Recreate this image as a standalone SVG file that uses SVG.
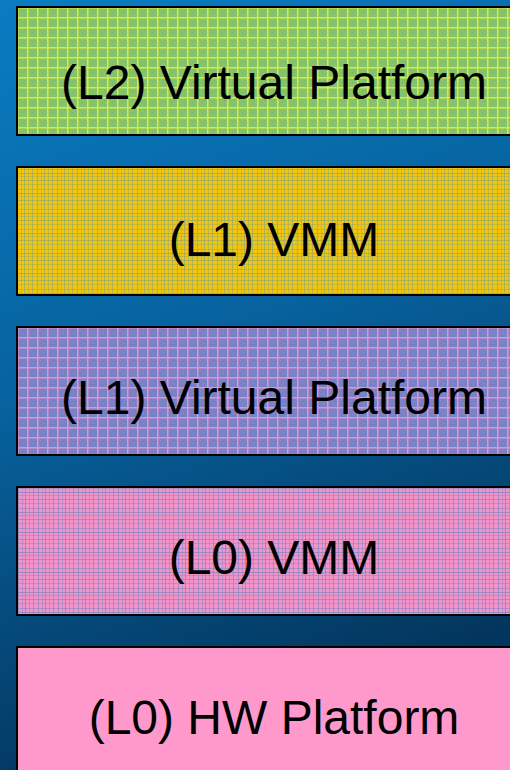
<svg xmlns="http://www.w3.org/2000/svg" width="510" height="770" viewBox="0 0 510 770">
<defs>
<linearGradient id="bg" x1="0" y1="0" x2="0.25" y2="1">
<stop offset="0" stop-color="#0a7cc2"/>
<stop offset="0.5" stop-color="#07629e"/>
<stop offset="1" stop-color="#03365e"/>
</linearGradient>
<pattern id="pGreen" x="17" y="7" width="10" height="10" patternUnits="userSpaceOnUse">
<rect width="10" height="10" fill="#86c46c"/>
<rect x="2" y="2" width="1" height="1" fill="#78b468"/>
<rect x="5" y="5" width="1" height="1" fill="#78b468"/>
<rect x="7" y="3" width="1" height="1" fill="#78b468"/>
<rect x="0" y="0" width="10" height="1.5" fill="#d6ec3a"/>
<rect x="0" y="0" width="1.5" height="10" fill="#d6ec3a"/>
</pattern>
<pattern id="pYellow" x="17" y="167" width="20" height="20" patternUnits="userSpaceOnUse">
<rect width="20" height="20" fill="#f2c60c"/>
<rect x="0" y="0" width="1" height="20" fill="#9aaa68" opacity="0.7"/>
<rect x="4" y="0" width="1" height="20" fill="#9aaa68" opacity="0.5"/>
<rect x="7" y="0" width="1" height="20" fill="#9aaa68" opacity="0.8"/>
<rect x="11" y="0" width="1" height="20" fill="#9aaa68" opacity="0.5"/>
<rect x="15" y="0" width="1" height="20" fill="#9aaa68" opacity="0.7"/>
<rect x="0" y="2" width="20" height="1" fill="#9aaa68" opacity="0.6"/>
<rect x="0" y="6" width="20" height="1" fill="#9aaa68" opacity="0.8"/>
<rect x="0" y="9" width="20" height="1" fill="#9aaa68" opacity="0.5"/>
<rect x="0" y="13" width="20" height="1" fill="#9aaa68" opacity="0.7"/>
<rect x="0" y="17" width="20" height="1" fill="#9aaa68" opacity="0.5"/>
</pattern>
<pattern id="pPurple" x="17" y="327" width="10" height="10" patternUnits="userSpaceOnUse">
<rect width="10" height="10" fill="#7a82c6"/>
<rect x="3" y="3" width="1" height="1" fill="#8a8ccc"/>
<rect x="6" y="6" width="1" height="1" fill="#8a8ccc"/>
<rect x="0" y="0" width="10" height="1.5" fill="#e690d2"/>
<rect x="0" y="0" width="1.5" height="10" fill="#e690d2"/>
</pattern>
<pattern id="pPink" x="17" y="487" width="20" height="20" patternUnits="userSpaceOnUse">
<rect width="20" height="20" fill="#f294c8"/>
<rect x="1" y="0" width="1" height="20" fill="#8a86c2" opacity="0.7"/>
<rect x="5" y="0" width="1" height="20" fill="#8a86c2" opacity="0.5"/>
<rect x="8" y="0" width="1" height="20" fill="#8a86c2" opacity="0.8"/>
<rect x="12" y="0" width="1" height="20" fill="#8a86c2" opacity="0.5"/>
<rect x="16" y="0" width="1" height="20" fill="#8a86c2" opacity="0.7"/>
<rect x="0" y="1" width="20" height="1" fill="#8a86c2" opacity="0.6"/>
<rect x="0" y="5" width="20" height="1" fill="#8a86c2" opacity="0.8"/>
<rect x="0" y="8" width="20" height="1" fill="#8a86c2" opacity="0.5"/>
<rect x="0" y="12" width="20" height="1" fill="#8a86c2" opacity="0.7"/>
<rect x="0" y="16" width="20" height="1" fill="#8a86c2" opacity="0.5"/>
</pattern>
</defs>
<style>
.box { stroke: #000000; stroke-width: 2; }
.lbl { font-family: "Liberation Sans", Arial, sans-serif; font-size: 48px; fill: #000000; text-anchor: middle; }
</style>
<rect x="0" y="0" width="510" height="770" fill="url(#bg)"/>
<g id="l2-virtual-platform">
<rect class="box" x="17" y="7" width="505" height="128" fill="url(#pGreen)"/>
<text class="lbl" x="274" y="99">(L2) Virtual Platform</text>
</g>
<g id="l1-vmm">
<rect class="box" x="17" y="167" width="505" height="128" fill="url(#pYellow)"/>
<text class="lbl" x="274" y="256">(L1) VMM</text>
</g>
<g id="l1-virtual-platform">
<rect class="box" x="17" y="327" width="505" height="128" fill="url(#pPurple)"/>
<text class="lbl" x="274" y="414">(L1) Virtual Platform</text>
</g>
<g id="l0-vmm">
<rect class="box" x="17" y="487" width="505" height="128" fill="url(#pPink)"/>
<text class="lbl" x="274" y="574">(L0) VMM</text>
</g>
<g id="l0-hw-platform">
<rect class="box" x="17" y="647" width="505" height="140" fill="#ff99cc"/>
<text class="lbl" x="274" y="734">(L0) HW Platform</text>
</g>
<g id="connectors"></g>
</svg>
